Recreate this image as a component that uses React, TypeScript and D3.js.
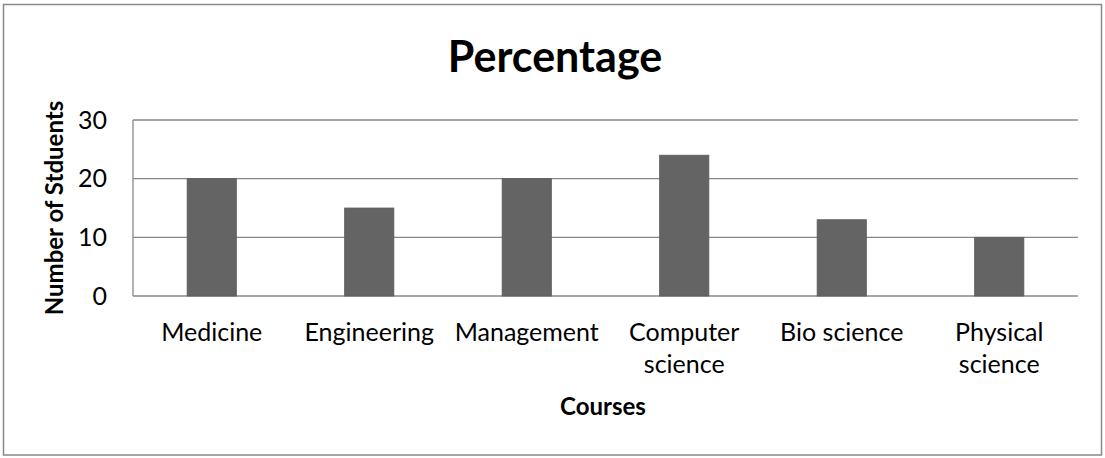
import React, { useMemo } from "react";
import * as d3 from "d3";

const categories = ["Medicine", "Engineering", "Management", "Computer science", "Bio science", "Physical science"];
const values = [20, 15, 20, 24, 13, 10];
const yTicks = [0, 10, 20, 30];
const title = "Percentage";
const xTitle = "Courses";
const yTitle = "Number of Stduents";

const W = 1105;
const H = 458;
const FONT = "Lato, 'Open Sans', sans-serif";
const M = { left: 133, right: 1078, top: 120, bottom: 296 };

function wrap(text: string, maxW: number, font: string): string[] {
  const c = document.createElement("canvas").getContext("2d")!;
  c.font = font;
  const words = text.split(" ");
  const lines: string[] = [];
  let cur = "";
  for (const w of words) {
    const t = cur ? cur + " " + w : w;
    if (cur && c.measureText(t).width > maxW) {
      lines.push(cur);
      cur = w;
    } else cur = t;
  }
  if (cur) lines.push(cur);
  return lines;
}

export default function App() {
  const x = d3.scaleBand<string>().domain(categories).range([M.left, M.right]).paddingInner(0.6875).paddingOuter(0.34375);
  const band = (M.right - M.left) / categories.length;
  const y = d3.scaleLinear().domain([0, 30]).range([M.bottom, M.top]);
  const labelFont = `25px ${FONT}`;
  const wrapped = useMemo(() => categories.map((c) => wrap(c, band - 8, labelFont)), []);
  return (
    <svg width={W} height={H} style={{ position: "absolute", left: 0, top: 0, background: "#fff" }} fontFamily={FONT}>
      <rect x={3.5} y={4.5} width={1098} height={450.5} fill="#fff" stroke="#888" strokeWidth={1.5} />
      <text x={555} y={72} textAnchor="middle" fontWeight="bold" fontSize={43} fill="#000">{title}</text>
      {yTicks.map((t) => (
        <g key={t}>
          <line x1={M.left} x2={M.right} y1={y(t)} y2={y(t)} stroke="#888" strokeWidth={1.3} />
          <text x={107} y={y(t)} dy="0.35em" textAnchor="end" fontSize={25} fill="#000">{t}</text>
        </g>
      ))}
      <line x1={M.left} x2={M.left} y1={M.top} y2={M.bottom} stroke="#888" strokeWidth={1.3} />
      {categories.map((c, i) => (
        <rect key={c} x={x(c)!} y={y(values[i])} width={x.bandwidth()} height={y(0) - y(values[i])} fill="#646464" stroke="#5c5c5c" strokeWidth={0.8} />
      ))}
      {categories.map((c, i) => (
        <text key={c} x={x(c)! + x.bandwidth() / 2} y={341} textAnchor="middle" fontSize={25} fill="#000">
          {wrapped[i].map((l, j) => (
            <tspan key={j} x={x(c)! + x.bandwidth() / 2} dy={j === 0 ? 0 : 32}>{l}</tspan>
          ))}
        </text>
      ))}
      <text x={603} y={415} textAnchor="middle" fontWeight="bold" fontSize={24} fill="#000">{xTitle}</text>
      <text transform={`translate(63,${(M.top + M.bottom) / 2}) rotate(-90)`} textAnchor="middle" fontWeight="bold" fontSize={24} fill="#000">{yTitle}</text>
    </svg>
  );
}
